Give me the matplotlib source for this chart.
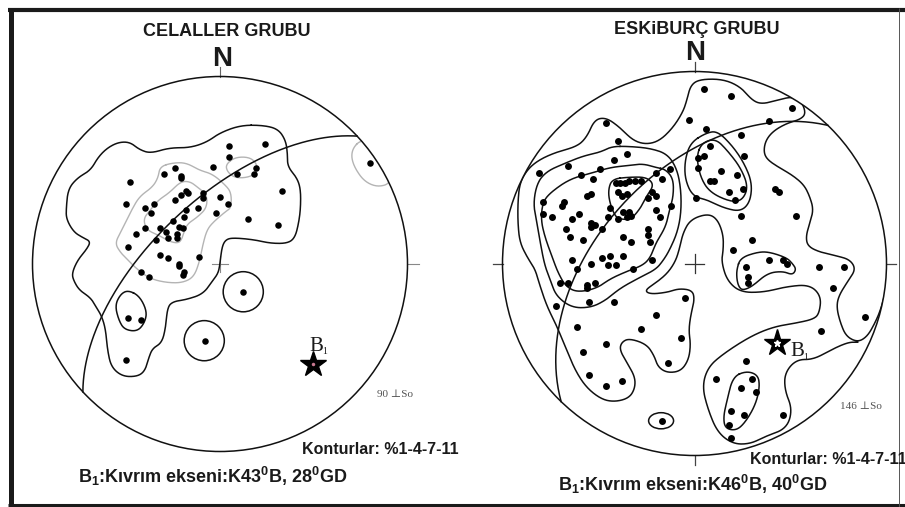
import numpy as np
import matplotlib.pyplot as plt
from matplotlib.patches import Circle, Ellipse

plt.rcParams['font.family'] = ['Liberation Sans', 'DejaVu Sans']
plt.rcParams['mathtext.fontset'] = 'custom'
plt.rcParams['mathtext.rm'] = 'Liberation Sans:bold'
plt.rcParams['mathtext.it'] = 'Liberation Sans:bold'
plt.rcParams['mathtext.bf'] = 'Liberation Sans:bold'
plt.rcParams['mathtext.default'] = 'rm'

W, H = 905, 507

# ---------------- data (x = east, y = north, in % of net radius) ----------------
cel_poles = [(5, 63), (5, 57), (-4, 52), (-24, 51), (-30, 48), (-21, 47), (-21, 46), (-48, 44),
             (-18, 39), (-17, 38), (-21, 37), (-9, 38), (-9, 35), (0, 36), (-24, 34), (-50, 32),
             (4, 32), (-35, 32), (-40, 30), (-37, 27), (-12, 30), (-18, 29), (-19, 25), (-2, 27),
             (-25, 23), (-22, 20), (-20, 19), (-40, 19), (-32, 19), (-29, 17), (-45, 16), (-23, 16),
             (-23, 14), (-28, 14), (-34, 13), (-49, 9), (-32, 5), (-28, 3), (-11, 4), (-22, 0),
             (-22, -1), (-19, -4), (-20, -6), (-42, -4), (-38, -7), (9, 48), (24, 64), (19, 51),
             (18, 48), (80, 54), (33, 39), (15, 24), (31, 21), (12, -15), (-49, -29), (-42, -30),
             (-50, -51), (-8, -41)]
cel_axis = (137, 28)          # B1: K43B, 28 GD  -> trend, plunge

esk_poles = [(-46, 73), (-3, 75), (-40, 64), (-35, 57), (-42, 54), (-66, 51), (-81, 47), (-59, 46),
             (-49, 49), (-53, 44), (-20, 47), (-17, 44), (-13, 49), (-41, 42), (-39, 42), (-36, 42),
             (-34, 43), (-31, 43), (-28, 43), (-40, 37), (-38, 35), (-35, 36), (-22, 37), (-24, 34),
             (-20, 35), (-56, 35), (-54, 36), (-68, 32), (-69, 30), (-79, 32), (-79, 26), (-74, 24),
             (-64, 23), (-60, 26), (-44, 29), (-45, 24), (-40, 23), (-37, 27), (-34, 27), (-33, 25),
             (-35, 24), (-20, 28), (-18, 24), (-12, 30), (1, 34), (-54, 21), (-54, 19), (-52, 20),
             (-48, 18), (-67, 18), (-65, 14), (-58, 12), (-37, 14), (-33, 11), (-24, 18), (-24, 15),
             (-23, 11), (-64, 2), (-48, 3), (-44, 4), (-41, -1), (-37, 4), (-22, 2), (-54, 0),
             (-45, -1), (5, 91), (19, 87), (51, 81), (39, 74), (6, 70), (24, 67), (8, 61), (26, 56),
             (5, 56), (2, 55), (2, 50), (14, 48), (22, 46), (8, 43), (10, 43), (25, 39), (18, 37),
             (21, 33), (42, 39), (44, 37), (53, 25), (24, 25), (30, 12), (20, 7), (39, 2), (46, 2),
             (48, 0), (27, -2), (65, -2), (78, -2), (-61, -3), (-32, -3), (-70, -10), (-66, -10),
             (-56, -11), (-52, -10), (-56, -13), (-72, -22), (-55, -20), (-42, -20), (-5, -18),
             (-20, -27), (-61, -33), (-28, -34), (-7, -39), (-46, -42), (-58, -46), (-14, -52),
             (-55, -58), (-38, -61), (-46, -64), (-17, -82), (28, -7), (28, -10), (72, -13),
             (89, -28), (66, -35), (27, -51), (11, -60), (30, -60), (24, -65), (32, -67), (19, -77),
             (26, -79), (46, -79), (18, -84), (19, -91)]
esk_axis = (134, 40)          # B1: K46B, 40 GD

# contour traces (%1-4-7-11)
cel_c1 = [(11, 74), (23, 74), (31, 72), (35, 66), (36, 59), (36, 52), (41, 46), (43, 40), (43, 30),
          (42, 22), (40, 14), (36, 11), (27, 11), (18, 13), (7, 14), (3, 13), (1, 9), (0, 0),
          (-1, -5), (-4, -9), (-9, -16), (-18, -19), (-25, -20), (-28, -23), (-29, -34), (-31, -42),
          (-36, -45), (-38, -50), (-40, -57), (-44, -60), (-52, -60), (-58, -55), (-60, -46),
          (-61, -35), (-63, -28), (-66, -23), (-69, -18), (-75, -14), (-78, -9), (-79, -5), (-76, 2),
          (-71, 8), (-69, 12), (-73, 14), (-78, 17), (-82, 24), (-82, 30), (-81, 40), (-76, 46),
          (-69, 50), (-65, 57), (-60, 62), (-54, 65), (-48, 65), (-43, 61), (-37, 59), (-27, 62),
          (-16, 62), (-7, 65), (0, 70)]
cel_e1 = [(-49, -14), (-43, -17), (-39, -25), (-40, -31), (-44, -36), (-51, -35), (-54, -30),
          (-56, -22), (-53, -16)]
cel_rings = [(12.4, -14.8), (-8.4, -40.9)]
cel_g4 = [(-32, 52), (-25, 54), (-18, 54), (-11, 50), (-4, 48), (3, 42), (6, 38), (6, 30), (3, 28),
          (-4, 22), (-7, 18), (-9, 11), (-11, 1), (-14, -7), (-20, -10), (-28, -10), (-37, -8),
          (-44, -3), (-49, 2), (-53, 6), (-56, 11), (-53, 17), (-49, 25), (-47, 29), (-43, 36),
          (-36, 41), (-33, 46)]
cel_g7 = [(-37, 29), (-33, 34), (-27, 38), (-21, 44), (-16, 44), (-12, 41), (-7, 37), (-7, 30),
          (-12, 25), (-18, 21), (-20, 14), (-22, 11), (-27, 12), (-32, 15), (-39, 18), (-41, 24)]
cel_g_top = [(3, 53), (8, 57), (16, 57), (20, 53), (19, 48), (14, 46), (8, 46), (4, 49)]
cel_g_rim = [(71, 62), (75, 66), (81, 65), (87, 57), (90, 50), (91, 43), (84, 41), (77, 44),
             (72, 51), (70, 57)]

esk_c1 = [(100, -13), (97, -24), (94, -31), (90, -38), (85, -41), (79, -38), (76, -31), (74, -23),
          (75, -17), (80, -9), (84, -3), (81, 2), (74, 4), (65, 6), (59, 9), (58, 14), (60, 21),
          (62, 28), (60, 35), (57, 41), (51, 46), (44, 50), (38, 54), (36, 58), (37, 64), (41, 69),
          (48, 73), (55, 75), (58, 78), (56, 84), (51, 87), (43, 85), (35, 83), (30, 85), (24, 92),
          (15, 96), (3, 96), (-2, 93), (-4, 85), (-6, 79), (-11, 71), (-18, 64), (-25, 62),
          (-32, 64), (-39, 71), (-46, 76), (-52, 75), (-56, 66), (-61, 61), (-72, 58), (-81, 54),
          (-87, 49), (-91, 42), (-92, 32), (-92, 21), (-91, 11), (-87, 3), (-83, -3), (-81, -10),
          (-77, -22), (-72, -32), (-67, -44), (-62, -56), (-56, -65), (-48, -71), (-41, -72),
          (-34, -70), (-31, -65), (-31, -59), (-35, -52), (-39, -45), (-38, -41), (-34, -39),
          (-25, -42), (-21, -48), (-19, -54), (-14, -57), (-7, -56), (-3, -50), (-2, -42),
          (-3, -35), (-2, -27), (0, -19), (-1, -14), (-8, -13), (-14, -15), (-23, -16), (-26, -14),
          (-20, -10), (-14, -5), (-10, 1), (-8, 7), (-6, 16), (-2, 23), (7, 26), (12, 23), (15, 15),
          (15, 7), (14, 1), (17, -9), (24, -15), (36, -15), (48, -12), (60, -11), (66, -17),
          (65, -26), (62, -29), (53, -31), (41, -33), (29, -38), (15, -47), (7, -54), (4, -64),
          (7, -76), (12, -88), (20, -94), (29, -94), (37, -90), (48, -86), (51, -76), (47, -66),
          (47, -57), (53, -50), (62, -50), (71, -45), (80, -41), (85, -41)]
esk_c4 = [(-43, 61), (-34, 61), (-23, 60), (-14, 57), (-9, 49), (-7, 38), (-7, 26), (-9, 16),
          (-13, 7), (-16, 2), (-20, -3), (-28, -7), (-39, -13), (-46, -19), (-54, -23), (-64, -23),
          (-72, -17), (-75, -9), (-78, -1), (-80, 9), (-82, 21), (-84, 31), (-82, 42), (-77, 48),
          (-68, 52), (-58, 56), (-49, 58)]
esk_c7 = [(-20, 50), (-15, 49), (-11, 44), (-11, 35), (-13, 28), (-15, 19), (-20, 11), (-23, 3),
          (-27, -1), (-35, -4), (-44, -8), (-51, -13), (-61, -15), (-67, -12), (-71, -5), (-74, 3),
          (-78, 14), (-80, 23), (-79, 32), (-75, 37), (-65, 44), (-54, 47), (-44, 50), (-35, 51),
          (-27, 52)]
esk_c11 = [(-43, 44), (-34, 45), (-25, 45), (-21, 41), (-25, 35), (-28, 29), (-33, 23), (-38, 23),
           (-41, 24), (-44, 31), (-45, 38)]
esk_b4 = [(-2, 63), (6, 68), (12, 69), (20, 61), (26, 52), (30, 42), (29, 32), (24, 27), (15, 29),
          (7, 33), (-1, 35), (-5, 44), (-5, 54)]
esk_b7 = [(1, 56), (4, 63), (11, 65), (17, 59), (24, 50), (28, 40), (25, 33), (19, 32), (8, 37),
          (3, 45)]
esk_c = [(22, -3), (24, 3), (33, 6), (39, 6), (48, 3), (51, 0), (53, -3), (51, -6), (46, -4),
         (38, -5), (30, -12), (25, -14), (23, -12), (22, -8)]
esk_s = [(20, -59), (27, -56), (33, -58), (34, -64), (32, -73), (27, -82), (22, -87), (16, -86),
         (15, -80), (17, -71)]
esk_ring = (-17.4, -81.9)


def smooth(pts, closed=True, n=4):
    p = np.asarray(pts, float)
    for _ in range(n):
        a = p if closed else p[:-1]
        b = np.roll(p, -1, axis=0) if closed else p[1:]
        q = np.empty((2 * len(a), 2))
        q[0::2] = 0.75 * a + 0.25 * b
        q[1::2] = 0.25 * a + 0.75 * b
        if not closed:
            q = np.vstack([p[0], q, p[-1]])
        p = q
    if closed:
        p = np.vstack([p, p[:1]])
    return p


def project(trend, plunge):
    # lambert equal-area, lower hemisphere, radius 100
    t, p = np.radians(trend), np.radians(plunge)
    r = 100 * np.sqrt(1 - np.sin(p))
    return r * np.sin(t), r * np.cos(t)


def girdle(trend, plunge):
    t, p = np.radians(trend), np.radians(plunge)
    b = np.array([np.sin(t) * np.cos(p), np.cos(t) * np.cos(p), np.sin(p)])
    u1 = np.array([np.cos(t), -np.sin(t), 0.0])
    u2 = np.cross(b, u1)
    if u2[2] < 0:
        u2 = -u2
    th = np.linspace(0, np.pi, 200)
    v = np.outer(np.cos(th), u1) + np.outer(np.sin(th), u2)
    r = 100 * np.sqrt(1 - v[:, 2])
    h = np.hypot(v[:, 0], v[:, 1])
    return r * v[:, 0] / h, r * v[:, 1] / h


fig = plt.figure(figsize=(W / 100, H / 100), dpi=100)

bg = fig.add_axes([0, 0, 1, 1])
bg.set_xlim(0, W)
bg.set_ylim(H, 0)
bg.axis('off')
bg.plot([8, W], [9.5, 9.5], color='#1a1a1a', lw=3.0, solid_capstyle='butt')
bg.plot([10.5, 10.5], [8, H], color='#1a1a1a', lw=3.6, solid_capstyle='butt')
bg.plot([8, W], [505, 505], color='#1a1a1a', lw=2.2, solid_capstyle='butt')
bg.plot([899, 899], [8, H], color='#555555', lw=0.7, solid_capstyle='butt')


def net_axes(cx, cy, rpx):
    L = 125
    s = rpx / 100
    ax = fig.add_axes([(cx - L * s) / W, 1 - (cy + L * s) / H, 2 * L * s / W, 2 * L * s / H])
    ax.set_xlim(-L, L)
    ax.set_ylim(-L, L)
    ax.axis('off')
    ax.patch.set_visible(False)
    return ax


def line(ax, pts, color='#111111', closed=True, lw=1.1):
    xy = smooth(pts, closed)
    ln, = ax.plot(xy[:, 0], xy[:, 1], color=color, lw=lw, zorder=2)
    ln.set_clip_path(Circle((0, 0), 100, transform=ax.transData))


# ---------------- Celaller ----------------
ax1 = net_axes(220, 264, 187.5)
ax1.add_patch(Circle((0, 0), 100, fill=False, ec='#111111', lw=1.1, zorder=3))
ax1.plot([0, 0], [100, 105], color='#666666', lw=0.8)
ax1.plot([100, 106], [0, 0], color='#888888', lw=0.8)
ax1.plot([-4.5, 4.5], [0, 0], color='#888888', lw=0.8)
ax1.plot([0, 0], [-4.5, 4.5], color='#888888', lw=0.8)

for g in (cel_g4, cel_g7, cel_g_top, cel_g_rim):
    line(ax1, g, color='#b4b4b4', lw=1.0)
line(ax1, cel_c1)
line(ax1, cel_e1)
for c in cel_rings:
    ax1.add_patch(Circle(c, 10.7, fill=False, ec='#111111', lw=1.1, zorder=2))

gx, gy = girdle(*cel_axis)
ax1.plot(gx, gy, color='#111111', lw=1.1, zorder=3)
p = np.array(cel_poles, float)
ax1.plot(p[:, 0], p[:, 1], 'o', color='black', ms=4.7, mec='none', zorder=4)
sx, sy = project(*cel_axis)
ax1.plot(sx, sy, '*', color='black', ms=19, zorder=5)
ax1.plot(sx, sy, 'o', color='#c87890', ms=2.5, mec='none', zorder=6)

# ---------------- Eskiburc ----------------
ax2 = net_axes(694.5, 263.5, 192)
ax2.add_patch(Circle((0, 0), 100, fill=False, ec='#111111', lw=1.1, zorder=3))
ax2.plot([0, 0], [100, 105], color='#444444', lw=0.9)
ax2.plot([0, 0], [-100, -105], color='#444444', lw=0.9)
ax2.plot([100, 105], [0, 0], color='#444444', lw=0.9)
ax2.plot([-100, -105], [0, 0], color='#444444', lw=0.9)
ax2.plot([-4.7, 4.7], [0, 0], color='#333333', lw=0.9)
ax2.plot([0, 0], [-4.7, 4.7], color='#333333', lw=0.9)

line(ax2, esk_c1, closed=False)
for c in (esk_c4, esk_c7, esk_c11, esk_b4, esk_b7, esk_c, esk_s):
    line(ax2, c)
ax2.add_patch(Ellipse(esk_ring, 13, 8.4, fill=False, ec='#111111', lw=1.1, zorder=2))

gx, gy = girdle(*esk_axis)
ax2.plot(gx, gy, color='#111111', lw=1.1, zorder=3)
p = np.array(esk_poles, float)
ax2.plot(p[:, 0], p[:, 1], 'o', color='black', ms=5.0, mec='none', zorder=4)
sx, sy = project(*esk_axis)
ax2.plot(sx, sy, '*', color='black', ms=20, zorder=5)
ax2.plot(sx, sy, '*', color='white', ms=5, zorder=6)


# ---------------- texts (pixel positions) ----------------
def ftext(x, y, s, **kw):
    fig.text(x / W, 1 - y / H, s, va='baseline', color='#1a1a1a', **kw)


ftext(227, 36.5, 'CELALLER GRUBU', ha='center', fontsize=13, fontweight='bold')
ftext(222, 66.5, 'N', ha='center', fontsize=20, fontweight='bold')
ftext(697, 33.5, 'ESKiBURÇ GRUBU', ha='center', fontsize=13, fontweight='bold')
ftext(695, 60.5, 'N', ha='center', fontsize=20, fontweight='bold')

serif = ['Liberation Serif', 'DejaVu Serif']
ftext(316, 351, 'B', ha='center', fontsize=15, family=serif)
ftext(322.5, 354.5, '1', ha='left', fontsize=7, family=serif)
ftext(797, 356.5, 'B', ha='center', fontsize=15, family=serif)
ftext(803.5, 360, '1', ha='left', fontsize=7, family=serif)

ftext(377, 397, '90 ⊥So', ha='left', fontsize=8, family=serif, alpha=0.75)
ftext(840, 409, '146 ⊥So', ha='left', fontsize=8, family=serif, alpha=0.75)

ftext(302, 454.5, 'Konturlar: %1-4-7-11', ha='left', fontsize=11.5, fontweight='bold')
ftext(750, 463.5, 'Konturlar: %1-4-7-11', ha='left', fontsize=11.5, fontweight='bold')
ftext(78, 483, 'B$_1$:Kıvrım ekseni:K43$^0$B, 28$^0$GD', ha='left', fontsize=13, fontweight='bold')
ftext(558, 491.5, 'B$_1$:Kıvrım ekseni:K46$^0$B, 40$^0$GD', ha='left', fontsize=13, fontweight='bold')

fig.savefig('out.png', dpi=100)
